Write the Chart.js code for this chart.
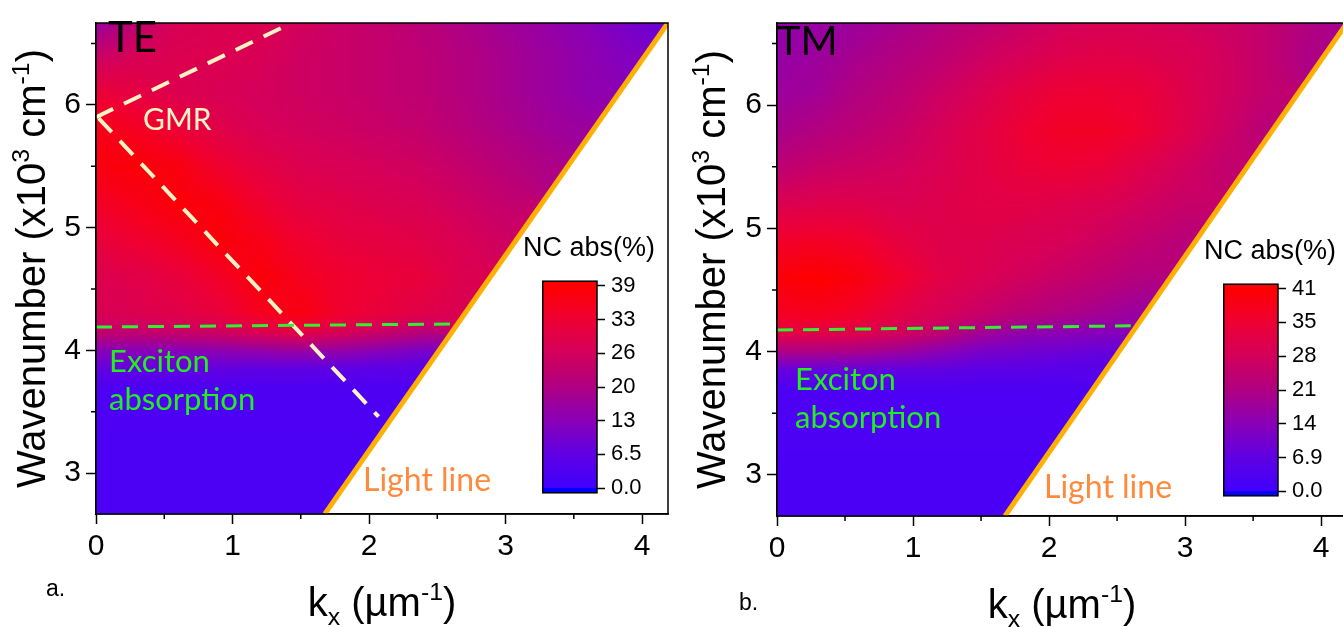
<!DOCTYPE html>
<html><head><meta charset="utf-8">
<script src="https://cdn.jsdelivr.net/npm/chart.js@4.4.1/dist/chart.umd.min.js"></script>
<style>
html,body{margin:0;padding:0;background:#fff;overflow:hidden;width:1343px;height:627px;position:relative;}
.wrap{position:absolute;}
canvas{display:block;}
</style></head><body>
<div class="wrap" style="left:0;top:0;"><canvas id="cTE" width="680" height="627"></canvas></div>
<div class="wrap" style="left:680px;top:0;"><canvas id="cTM" width="680" height="627"></canvas></div>
<div class="wrap" style="left:542px;top:262px;"><canvas id="cbTE" width="110" height="250"></canvas></div>
<div class="wrap" style="left:1223px;top:265px;"><canvas id="cbTM" width="120" height="250"></canvas></div>
<script>
// ---------------- DATA ----------------
const kxTicks = [0, 1, 2, 3, 4];
const kxMinor = [0.5, 1.5, 2.5, 3.5];
const wnTicks = [3, 4, 5, 6];
const wnMinor = [3.5, 4.5, 5.5, 6.5];
const kxRange = [0, 4.19];
const wnRange = [2.667, 6.667];

// heat-map grid (kx in um^-1, wavenumber in 10^3 cm^-1)
const kxGrid = [0, 0.3, 0.6, 0.9, 1.2, 1.5, 1.8, 2.1, 2.4, 2.7, 3.0, 3.3, 3.6, 3.9, 4.2];
const wnGrid = [2.7, 3.2, 3.7, 3.85, 4.0, 4.15, 4.3, 4.6, 4.9, 5.2, 5.5, 5.8, 6.1, 6.4, 6.7];

// NC absorption (%) - TE, one row per wnGrid entry (cells beyond the light line omitted)
const teAbs = [
  [2.5, 2.5, 2.5, 2.5, 2.5, 2.5],
  [2.5, 2.5, 2.5, 2.5, 2.5, 2.5, 2.5],
  [3, 3, 3, 3, 3, 3, 3, 3],
  [7, 7, 7, 7, 6.5, 6.5, 6, 5.5, 5],
  [13, 13, 13, 14, 15, 16, 15, 13, 11],
  [23, 23, 24, 25, 28, 30, 27, 24, 21],
  [27, 28, 29, 31, 35, 37, 33, 31, 29, 27],
  [28, 29, 31, 34, 38, 35, 33, 32, 31, 28],
  [31, 33, 35, 38, 36, 33, 31, 30, 29, 27, 25],
  [34, 36, 38, 37, 33, 30, 29, 28, 27, 25, 23],
  [37, 38, 37, 33, 30, 28, 27, 26, 25, 23, 21, 19],
  [36, 35, 32, 29, 27, 26, 25, 24, 23, 21, 19, 17, 16],
  [32, 30, 28, 27, 26, 25, 24, 23, 22, 20, 18, 16, 14],
  [24, 27, 28, 28, 27, 25, 24, 23, 22, 20, 18, 16, 14, 12],
  [14, 22, 27, 28, 28, 26, 24, 23, 21, 19, 17, 15, 13, 10, 8]
];
// NC absorption (%) - TM
const tmAbs = [
  [2.5, 2.5, 2.5, 2.5, 2.5, 2.5],
  [2.5, 2.5, 2.5, 2.5, 2.5, 2.5, 2.5],
  [3, 3, 3, 3, 3, 3, 3, 3],
  [8, 8, 8, 7, 7, 6, 6, 5, 5],
  [20, 20, 19, 17, 14, 11, 10, 9, 8],
  [31, 31, 30, 27, 23, 18, 15, 14, 13],
  [36, 37, 35, 31, 28, 25, 22, 20, 18, 16],
  [40, 41, 39, 35, 31, 29, 27, 25, 23, 21],
  [35, 36, 35, 32, 30, 30, 29, 28, 26, 24, 22],
  [29, 30, 30, 29, 30, 31, 31, 30, 29, 27, 25],
  [23, 25, 26, 27, 29, 31, 33, 34, 33, 30, 27, 24],
  [19, 21, 23, 25, 28, 31, 34, 36, 36, 34, 30, 26, 22],
  [17, 18, 21, 23, 26, 29, 32, 34, 34, 33, 30, 27, 24],
  [16, 17, 19, 21, 23, 26, 28, 30, 31, 30, 29, 27, 24, 20],
  [15, 16, 17, 19, 21, 23, 25, 27, 28, 28, 27, 26, 24, 21, 18]
];

const lightLineKx = [1.676, 4.189];
const lightLineWn = [2.667, 6.667];
const teExcitonKx = [0, 2.64];
const teExcitonWn = [4.19, 4.215];
const tmExcitonKx = [0, 2.6];
const tmExcitonWn = [4.176, 4.21];
const gmrUpperKx = [0, 1.42];
const gmrUpperWn = [5.9, 6.66];
const gmrLowerKx = [0.02, 2.07];
const gmrLowerWn = [5.89, 3.46];

const teMax = 39, tmMax = 41;
const teCbTicks = [0, 6.5, 13, 19.5, 26, 32.5, 39];
const teCbLabels = ['0.0', '6.5', '13', '20', '26', '33', '39'];
const tmCbTicks = [0, 6.83, 13.67, 20.5, 27.33, 34.17, 41];
const tmCbLabels = ['0.0', '6.9', '14', '21', '28', '35', '41'];

// ---------------- STYLE / HELPERS ----------------
const cmapStops = [[0,[64,0,255]],[0.17,[96,0,226]],[0.33,[136,0,184]],[0.5,[176,0,130]],[0.67,[212,0,90]],[0.83,[238,0,52]],[1,[255,0,0]]];
function cmap(t){
  if (t < 0) return [0,0,255];
  if (t >= 1) return cmapStops[cmapStops.length-1][1];
  for (let i=0;i<cmapStops.length-1;i++){
    const [t0,c0]=cmapStops[i],[t1,c1]=cmapStops[i+1];
    if (t>=t0 && t<=t1){const f=(t-t0)/(t1-t0); return [0,1,2].map(k=>Math.round(c0[k]+(c1[k]-c0[k])*f));}
  }
  return [255,0,0];
}
function locate(arr,v){
  const n=arr.length-1;
  if (v<=arr[0]) return [0,0,0];
  if (v>=arr[n]) return [n,n,0];
  let i=0; while(arr[i+1]<v) i++;
  return [i,i+1,(v-arr[i])/(arr[i+1]-arr[i])];
}
function sample(grid,k,w){
  const [i0,i1,fx]=locate(kxGrid,k), [j0,j1,fy]=locate(wnGrid,w);
  const cs=[[j0,i0,(1-fx)*(1-fy)],[j0,i1,fx*(1-fy)],[j1,i0,(1-fx)*fy],[j1,i1,fx*fy]];
  let s=0,ws=0;
  for (const [j,i,wt] of cs){const v=grid[j][i]; if(v!=null && wt>0){s+=v*wt;ws+=wt;}}
  if (ws>0) return s/ws;
  for (const j of [j0,j1]){ for(let i=i1;i>=0;i--){ if(grid[j][i]!=null) return grid[j][i]; } }
  return 0;
}
function heatPlugin(grid,vmax){
  return {id:'heat', beforeDatasetsDraw(chart){
    const {ctx, chartArea:a, scales:{x,y}} = chart;
    const L=Math.floor(a.left), T=Math.floor(a.top);
    const W=Math.ceil(a.right)-L, H=Math.ceil(a.bottom)-T;
    const off=document.createElement('canvas'); off.width=W; off.height=H;
    const octx=off.getContext('2d'); const img=octx.createImageData(W,H); const d=img.data;
    for(let py=0;py<H;py++){
      const w=y.getValueForPixel(T+py+0.5);
      for(let px=0;px<W;px++){
        const k=x.getValueForPixel(L+px+0.5);
        const c=cmap(sample(grid,k,w)/vmax); const p=(py*W+px)*4;
        d[p]=c[0]; d[p+1]=c[1]; d[p+2]=c[2]; d[p+3]=255;
      }
    }
    octx.putImageData(img,0,0);
    ctx.save(); ctx.beginPath();
    ctx.moveTo(x.getPixelForValue(kxRange[0]), y.getPixelForValue(wnRange[0]));
    ctx.lineTo(x.getPixelForValue(lightLineKx[0]), y.getPixelForValue(lightLineWn[0]));
    ctx.lineTo(x.getPixelForValue(lightLineKx[1]), y.getPixelForValue(lightLineWn[1]));
    ctx.lineTo(x.getPixelForValue(kxRange[0]), y.getPixelForValue(wnRange[1]));
    ctx.closePath(); ctx.clip();
    ctx.drawImage(off,L,T);
    ctx.restore();
  }};
}
function drawRich(ctx, parts, x, y, size, family, align, rot){
  ctx.save(); ctx.translate(x,y); if(rot) ctx.rotate(rot);
  ctx.fillStyle='#000'; ctx.textBaseline='alphabetic'; ctx.textAlign='left';
  let total=0;
  const m=parts.map(p=>{const fs=p.s?size*0.62:size; ctx.font=fs+'px '+family; const w=ctx.measureText(p.t).width; total+=w; return {fs,w};});
  let cx = align==='center' ? -total/2 : 0;
  parts.forEach((p,i)=>{ctx.font=m[i].fs+'px '+family; const dy=p.s===1?-size*0.4:(p.s===-1?size*0.22:0); ctx.fillText(p.t,cx,dy); cx+=m[i].w;});
  ctx.restore();
}
function framePlugin(cfg){
  return {id:'frame', afterDatasetsDraw(chart){
    const {ctx, chartArea:a, scales:{x,y}} = chart;
    ctx.save(); ctx.strokeStyle='#000'; ctx.lineWidth=1.5;
    ctx.strokeRect(a.left,a.top,a.right-a.left,a.bottom-a.top);
    ctx.beginPath();
    kxMinor.forEach(v=>{const px=x.getPixelForValue(v); ctx.moveTo(px,a.bottom); ctx.lineTo(px,a.bottom+5);});
    wnMinor.forEach(v=>{const py=y.getPixelForValue(v); ctx.moveTo(a.left,py); ctx.lineTo(a.left-5,py);});
    ctx.stroke();
    // annotations
    cfg.texts.forEach(t=>{ctx.font=t.font; ctx.fillStyle=t.color; ctx.textAlign='left'; ctx.textBaseline='alphabetic'; ctx.fillText(t.t,t.x,t.y);});
    // axis titles
    const fam='"Liberation Sans", Arial, sans-serif';
    drawRich(ctx,[{t:'Wavenumber (x10'},{t:'3',s:1},{t:' cm'},{t:'-1',s:1},{t:')'}], cfg.yTitleX, (a.top+a.bottom)/2, 40, fam, 'center', -Math.PI/2);
    drawRich(ctx,[{t:'k'},{t:'x',s:-1},{t:' (\u00b5m'},{t:'-1',s:1},{t:')'}], (a.left+a.right)/2, cfg.xTitleY, 40, fam, 'center', 0);
    ctx.restore();
  }};
}
function line(kx,wn,color,width,dash){
  return {data:kx.map((v,i)=>({x:v,y:wn[i]})), showLine:true, borderColor:color, borderWidth:width, borderDash:dash||[], pointRadius:0, borderCapStyle:'butt', fill:false};
}
const tickFont={family:'"Liberation Sans", Arial, sans-serif', size:30};
function makePanel(id, cfg){
  return new Chart(document.getElementById(id), {
    type:'scatter',
    data:{datasets:cfg.datasets},
    options:{
      responsive:false, animation:false, events:[],
      layout:{padding:{top:cfg.top,right:cfg.right,left:0,bottom:0}},
      plugins:{legend:{display:false},tooltip:{enabled:false}},
      scales:{
        x:{type:'linear',min:kxRange[0],max:kxRange[1],
          afterFit:s=>{s.height=cfg.xh;},
          afterBuildTicks:s=>{s.ticks=kxTicks.map(v=>({value:v}));},
          ticks:{font:tickFont,color:'#000',padding:5,callback:v=>String(v),maxRotation:0},
          grid:{drawOnChartArea:false,tickLength:10,tickColor:'#000',tickWidth:1.5},
          border:{color:'#000',width:1.5}},
        y:{type:'linear',min:wnRange[0],max:wnRange[1],
          afterFit:s=>{s.width=cfg.yw;},
          afterBuildTicks:s=>{s.ticks=wnTicks.map(v=>({value:v}));},
          ticks:{font:tickFont,color:'#000',padding:5,callback:v=>String(v)},
          grid:{drawOnChartArea:false,tickLength:10,tickColor:'#000',tickWidth:1.5},
          border:{color:'#000',width:1.5}}
      }
    },
    plugins:[heatPlugin(cfg.grid,cfg.vmax), framePlugin(cfg)]
  });
}
function makeColorbar(id, ticks, labels, vmax){
  const vmin=-0.9, vtop=vmax+0.9;
  return new Chart(document.getElementById(id), {
    type:'bar',
    data:{labels:[''],datasets:[{data:[[vmin,vtop]], barPercentage:1, categoryPercentage:1, borderWidth:0,
      backgroundColor:(c)=>{
        const ch=c.chart; if(!ch.chartArea) return '#800080';
        const ys=ch.scales.y; const y0=ys.getPixelForValue(vmin), y1=ys.getPixelForValue(vtop);
        const g=ch.ctx.createLinearGradient(0,y0,0,y1);
        const off=v=>(v-vmin)/(vtop-vmin);
        g.addColorStop(0,'rgb(0,0,255)'); g.addColorStop(off(0)-0.001,'rgb(0,0,255)');
        for(let i=0;i<=40;i++){const v=vmax*i/40; const cc=cmap(i/40); g.addColorStop(off(v),`rgb(${cc[0]},${cc[1]},${cc[2]})`);}
        g.addColorStop(1,'rgb(255,0,0)');
        return g;}}]},
    options:{responsive:false,animation:false,events:[],
      layout:{padding:{top:10,bottom:10,left:0,right:0}},
      plugins:{legend:{display:false},tooltip:{enabled:false}},
      scales:{
        x:{display:false},
        y:{position:'right',min:vmin,max:vtop,
          afterFit:s=>{s.width=s.chart.width-55;},
          afterBuildTicks:s=>{s.ticks=ticks.map(v=>({value:v}));},
          ticks:{font:{family:'"Liberation Sans", Arial, sans-serif',size:22},color:'#000',padding:6,callback:(v,i)=>labels[i]},
          grid:{drawOnChartArea:false,tickLength:8,tickColor:'#000',tickWidth:1.5},
          border:{display:false}}
      }},
    plugins:[{id:'box',afterDatasetsDraw(ch){const a=ch.chartArea,ctx=ch.ctx; ctx.save(); ctx.strokeStyle='#000'; ctx.lineWidth=1.5; ctx.strokeRect(a.left+0.75,a.top,a.right-a.left-0.75,a.bottom-a.top); ctx.restore();}}]
  });
}

function init(){
  const lato='Lato, "Open Sans", sans-serif';
  const arial='"Liberation Sans", Arial, sans-serif';
  makePanel('cTE',{
    grid:teAbs, vmax:teMax, top:12, right:12, xh:113, yw:96, yTitleX:45, xTitleY:616,
    datasets:[
      line(lightLineKx,lightLineWn,'#ffb000',5),
      line(teExcitonKx,teExcitonWn,'#33ee33',3,[16,10]),
      line(gmrUpperKx,gmrUpperWn,'#fff3c4',4,[19,12]),
      line(gmrLowerKx,gmrLowerWn,'#fff3c4',4,[19,12])
    ],
    texts:[
      {t:'TE',x:108,y:52,font:'42px '+lato,color:'#000'},
      {t:'GMR',x:143,y:130,font:'30px '+lato,color:'#fff3c4'},
      {t:'Exciton',x:109,y:372,font:'31px '+lato,color:'#22ee22'},
      {t:'absorption',x:109,y:410,font:'31px '+lato,color:'#22ee22'},
      {t:'Light line',x:363,y:491,font:'32px '+lato,color:'#ff8a3d'},
      {t:'NC abs(%)',x:523,y:256,font:'27px '+arial,color:'#000'},
      {t:'a.',x:46,y:596,font:'23px '+arial,color:'#000'}
    ]
  });
  makePanel('cTM',{
    grid:tmAbs, vmax:tmMax, top:15, right:13, xh:111, yw:97, yTitleX:45, xTitleY:618,
    datasets:[
      line(lightLineKx,lightLineWn,'#ffb000',5),
      line(tmExcitonKx,tmExcitonWn,'#33ee33',3,[16,10])
    ],
    texts:[
      {t:'TM',x:97,y:55,font:'40px '+lato,color:'#000'},
      {t:'Exciton',x:115,y:390,font:'31px '+lato,color:'#22ee22'},
      {t:'absorption',x:115,y:428,font:'31px '+lato,color:'#22ee22'},
      {t:'Light line',x:364,y:498,font:'32px '+lato,color:'#ff8a3d'},
      {t:'NC abs(%)',x:524,y:259,font:'27px '+arial,color:'#000'},
      {t:'b.',x:59,y:610,font:'23px '+arial,color:'#000'}
    ]
  });
  makeColorbar('cbTE',teCbTicks,teCbLabels,teMax);
  makeColorbar('cbTM',tmCbTicks,tmCbLabels,tmMax);
}
Promise.all([document.fonts.load('30px Lato'),document.fonts.load('27px "Liberation Sans"')]).then(init,init);
</script>
</body></html>
